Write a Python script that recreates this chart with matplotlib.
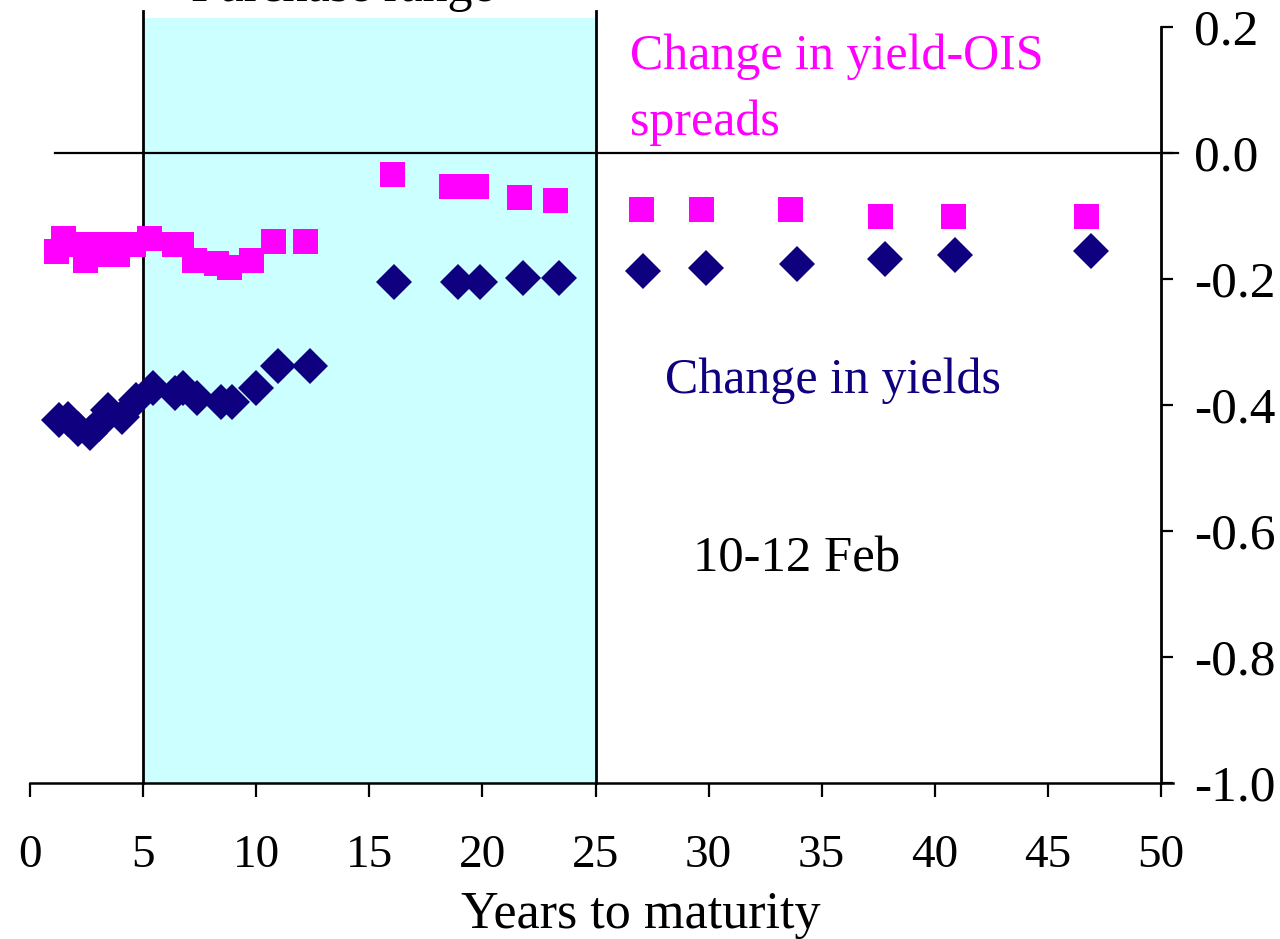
import matplotlib
matplotlib.use("Agg")
import matplotlib.pyplot as plt

# ---- data ----
spread_maturity = [1.17, 1.45, 2.10, 2.45, 2.85, 3.26, 3.55, 3.85, 4.55, 5.25, 6.37, 6.68,
                   7.24, 8.22, 8.78, 9.77, 10.76, 12.17, 16.0, 18.6, 19.7, 21.6, 23.2,
                   27.0, 29.66, 33.6, 37.56, 40.8, 46.7]
spread_change = [-0.155, -0.135, -0.145, -0.170, -0.145, -0.161, -0.145, -0.161, -0.145,
                 -0.135, -0.145, -0.145, -0.170, -0.175, -0.181, -0.170, -0.140, -0.140,
                 -0.034, -0.053, -0.053, -0.070, -0.075, -0.089, -0.089, -0.089, -0.100,
                 -0.100, -0.100]

yield_maturity = [1.28, 1.70, 2.14, 2.65, 3.05, 3.46, 4.05, 4.69, 5.45, 6.41, 6.78, 7.37,
                  8.43, 8.92, 9.98, 10.98, 12.38, 16.1, 18.9, 19.9, 21.8, 23.4,
                  27.1, 29.9, 33.9, 37.8, 40.9, 46.9]
yield_change = [-0.424, -0.423, -0.438, -0.445, -0.430, -0.408, -0.419, -0.392, -0.373,
                -0.381, -0.373, -0.389, -0.395, -0.395, -0.373, -0.338, -0.338,
                -0.204, -0.204, -0.204, -0.198, -0.198, -0.188, -0.183, -0.176, -0.168,
                -0.162, -0.155]

purchase_range = [5, 25]
x_ticks = [0, 5, 10, 15, 20, 25, 30, 35, 40, 45, 50]
y_ticks = [0.2, 0.0, -0.2, -0.4, -0.6, -0.8, -1.0]
y_tick_labels = ["0.2", "0.0", "-0.2", "-0.4", "-0.6", "-0.8", "-1.0"]

PINK = "#ff00ff"
NAVY = "#0f0080"
CYAN = "#ccffff"
FONT = "Liberation Serif"

plt.rcParams["font.family"] = [FONT, "DejaVu Serif"]

W, H = 1280, 939
fig = plt.figure(figsize=(W / 100, H / 100), dpi=100)
ax = fig.add_axes([30 / W, 1 - 783 / H, (1161 - 30) / W, (783 - 27) / H])
ax.set_xlim(0, 50)
ax.set_ylim(-1.0, 0.2)

# shaded purchase range
ax.fill_between(purchase_range, -1.0, 0.214, color=CYAN, lw=0, zorder=0, clip_on=False)
for xv in purchase_range:
    ax.plot([xv, xv], [-1.0, 0.225], color="black", lw=2.0, zorder=1, clip_on=False)

# zero line
ax.plot([1.1, 50.75], [0, 0], color="black", lw=1.6, zorder=1, clip_on=False)
# bottom axis line
ax.plot([0, 50.55], [-1.0, -1.0], color="black", lw=1.8, zorder=1, clip_on=False)

ax.plot(spread_maturity, spread_change, ls="none", marker="s", ms=18, mew=0,
        color=PINK, zorder=3, clip_on=False)
ax.plot(yield_maturity, yield_change, ls="none", marker="D", ms=18.5, mew=0,
        color=NAVY, zorder=3, clip_on=False)

for s in ["left", "top", "bottom"]:
    ax.spines[s].set_visible(False)
ax.spines["right"].set_linewidth(2.0)

ax.yaxis.tick_right()
ax.set_yticks(y_ticks)
ax.set_yticklabels(y_tick_labels)
ax.set_xticks(x_ticks)
ax.set_xticklabels([str(v) for v in x_ticks])
ax.tick_params(axis="y", direction="out", length=8.6, width=1.6, pad=15,
               labelsize=37, right=True, left=False)
ax.tick_params(axis="x", direction="out", length=10, width=1.6, pad=27,
               labelsize=34)
for lab in ax.get_xticklabels() + ax.get_yticklabels():
    lab.set_fontfamily(FONT)

fig.text(641 / W, 1 - 928 / H, "Years to maturity", ha="center", va="baseline",
         fontsize=37.5, family=FONT)
fig.text(630 / W, 1 - 69 / H, "Change in yield-OIS", ha="left", va="baseline",
         fontsize=36, family=FONT, color=PINK)
fig.text(630 / W, 1 - 135 / H, "spreads", ha="left", va="baseline",
         fontsize=36, family=FONT, color=PINK)
fig.text(665 / W, 1 - 393 / H, "Change in yields", ha="left", va="baseline",
         fontsize=36, family=FONT, color=NAVY)
fig.text(693 / W, 1 - 572 / H, "10-12 Feb", ha="left", va="baseline",
         fontsize=36.5, family=FONT, color="black")
# title of the shaded band, cut off by the top edge in the reference
fig.text(191 / W, 1 - 1 / H, "Purchase range", ha="left", va="baseline",
         fontsize=36, family=FONT, color="black")

fig.savefig("out.png", dpi=100)
